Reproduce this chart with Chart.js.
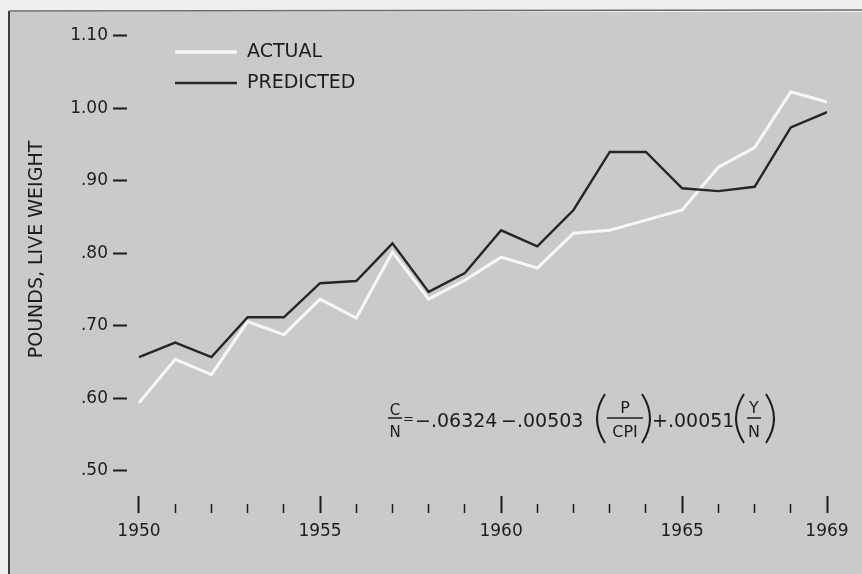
<!DOCTYPE html>
<html>
<head>
<meta charset="utf-8">
<script src="https://cdn.jsdelivr.net/npm/chart.js@4.4.0/dist/chart.umd.min.js"></script>
<style>
html, body { margin: 0; padding: 0; background: #efefef; }
canvas { display: block; }
</style>
</head>
<body>
<canvas id="chartcontainer" width="862" height="574"></canvas>
<script>
// values
var years = [1950, 1951, 1952, 1953, 1954, 1955, 1956, 1957, 1958, 1959,
             1960, 1961, 1962, 1963, 1964, 1965, 1966, 1967, 1968, 1969];
var actual = [0.594, 0.654, 0.633, 0.706, 0.688, 0.737, 0.711, 0.802, 0.737, 0.763,
              0.795, 0.780, 0.828, 0.832, 0.846, 0.860, 0.919, 0.946, 1.023, 1.009];
var predicted = [0.657, 0.677, 0.657, 0.712, 0.712, 0.759, 0.762, 0.814, 0.747, 0.773,
                 0.832, 0.810, 0.860, 0.940, 0.940, 0.890, 0.886, 0.892, 0.974, 0.995];
var yTicks = [0.50, 0.60, 0.70, 0.80, 0.90, 1.00, 1.10];
var xLabelYears = [1950, 1955, 1960, 1965, 1969];
var seriesLabels = ["ACTUAL", "PREDICTED"];
var yTitle = "POUNDS, LIVE WEIGHT";

var ink = "#1d1d1d";
var fontFam = "'DejaVu Sans', sans-serif";

function toPoints(vals) {
    var pts = [];
    for (var i = 0; i < years.length; i++) {
        pts.push({ x: years[i], y: vals[i] });
    }
    return pts;
}

function isMajor(v) {
    return xLabelYears.indexOf(v) >= 0;
}

function fmtY(v) {
    var s = v.toFixed(2);
    return v < 1 ? s.slice(1) : s; // ".90" style labels, like the original
}

// gray photo paper + the dark edges of the print
var paperPlugin = {
    id: "paper",
    beforeDraw: function(chart) {
        var c = chart.ctx;
        c.save();
        c.fillStyle = "#eeeeee";
        c.fillRect(0, 0, chart.width, chart.height);
        c.fillStyle = "#cacaca";
        c.fillRect(10, 12, chart.width - 10, chart.height - 12);
        c.strokeStyle = "#3c3c3c";
        c.lineWidth = 2;
        c.beginPath();
        c.moveTo(9, 11);
        c.lineTo(9, chart.height);
        c.stroke();
        c.strokeStyle = "#6a6a6a";
        c.lineWidth = 1.5;
        c.beginPath();
        c.moveTo(9, 11);
        c.lineTo(chart.width, 10);
        c.stroke();
        c.restore();
    }
};

// legend sits inside the plot, top left, line sample then text
var keyPlugin = {
    id: "key",
    afterDatasetsDraw: function(chart) {
        var c = chart.ctx;
        var rows = [52, 83];
        c.save();
        c.font = "19px " + fontFam;
        c.textBaseline = "middle";
        c.textAlign = "left";
        chart.data.datasets.forEach(function(ds, i) {
            c.strokeStyle = ds.borderColor;
            c.lineWidth = i == 0 ? 3.5 : 2.5;
            c.beginPath();
            c.moveTo(175, rows[i]);
            c.lineTo(237, rows[i]);
            c.stroke();
            c.fillStyle = ink;
            c.fillText(ds.label, 247, rows[i]);
        });
        c.restore();
    }
};

function frac(c, top, bottom, cx, x1, x2, size) {
    c.font = size + "px " + fontFam;
    c.textAlign = "center";
    c.textBaseline = "alphabetic";
    c.fillText(top, cx, 413);
    c.fillText(bottom, cx, 437);
    c.lineWidth = 1.5;
    c.beginPath();
    c.moveTo(x1, 418);
    c.lineTo(x2, 418);
    c.stroke();
}

function paren(c, x0, x1, left) {
    var top = 394, bottom = 443, mid = (top + bottom) / 2;
    c.lineWidth = 2;
    c.beginPath();
    if (left) {
        c.moveTo(x1, top);
        c.quadraticCurveTo(x0 - 6, mid, x1, bottom);
    } else {
        c.moveTo(x0, top);
        c.quadraticCurveTo(x1 + 6, mid, x0, bottom);
    }
    c.stroke();
}

// regression equation under the lines
var formulaPlugin = {
    id: "formula",
    afterDraw: function(chart) {
        var c = chart.ctx;
        c.save();
        c.fillStyle = ink;
        c.strokeStyle = ink;
        // C/N
        c.font = "15px " + fontFam;
        c.textAlign = "center";
        c.fillText("C", 395, 415);
        c.fillText("N", 395, 437);
        c.lineWidth = 1.5;
        c.beginPath();
        c.moveTo(388, 418);
        c.lineTo(402, 418);
        c.stroke();
        c.font = "13px " + fontFam;
        c.textAlign = "left";
        c.fillText("=", 403, 423);

        c.font = "19px " + fontFam;
        c.fillText("\u2212.06324", 415, 427);
        c.fillText("\u2212.00503", 501, 427);
        paren(c, 595, 605, true);
        frac(c, "P", "CPI", 625, 607, 643, 16);
        paren(c, 642, 652, false);
        c.font = "19px " + fontFam;
        c.textAlign = "left";
        c.fillText("+.00051", 652, 427);
        paren(c, 734, 744, true);
        frac(c, "Y", "N", 754, 747, 761, 16);
        paren(c, 766, 776, false);
        c.restore();
    }
};

var ctx = document.getElementById("chartcontainer").getContext("2d");
var chart = new Chart(ctx, {
    type: "line",
    data: {
        datasets: [
            {
                label: seriesLabels[0],
                data: toPoints(actual),
                borderColor: "#f7f7f7",
                borderWidth: 3,
                pointRadius: 0,
                tension: 0,
                order: 2
            },
            {
                label: seriesLabels[1],
                data: toPoints(predicted),
                borderColor: "#262626",
                borderWidth: 2.4,
                pointRadius: 0,
                tension: 0,
                order: 1
            }
        ]
    },
    options: {
        responsive: false,
        animation: false,
        devicePixelRatio: 1,
        layout: {
            autoPadding: false,
            padding: { top: 3, right: 35, bottom: 0, left: 0 }
        },
        plugins: {
            legend: { display: false },
            tooltip: { enabled: false }
        },
        scales: {
            x: {
                type: "linear",
                min: 1949.669,   // axis starts a little left of 1950, ticks are set off from the frame
                max: 1969,
                afterBuildTicks: function(s) {
                    s.ticks = years.map(function(v) { return { value: v }; });
                },
                afterFit: function(s) {
                    s.height = 78;
                    s.paddingLeft = 0;
                    s.paddingRight = 0;
                },
                border: { display: false },
                grid: {
                    drawOnChartArea: false,
                    drawTicks: true,
                    tickLength: 17,
                    tickColor: ink,
                    tickWidth: function(c) { return isMajor(c.tick.value) ? 2 : 1.5; },
                    tickBorderDash: function(c) { return isMajor(c.tick.value) ? [] : [0, 8, 9, 100]; }
                },
                ticks: {
                    autoSkip: false,
                    maxRotation: 0,
                    padding: 8,
                    color: ink,
                    font: { family: fontFam, size: 17 },
                    callback: function(v) { return isMajor(v) ? String(v) : ""; }
                }
            },
            y: {
                min: 0.4655,
                max: 1.1455,
                afterBuildTicks: function(s) {
                    s.ticks = yTicks.map(function(v) { return { value: v }; });
                },
                afterFit: function(s) {
                    s.width = 127;
                    s.paddingTop = 0;
                    s.paddingBottom = 0;
                },
                border: { display: false },
                grid: {
                    drawOnChartArea: false,
                    drawTicks: true,
                    tickLength: 14,
                    tickWidth: 2,
                    tickColor: ink
                },
                ticks: {
                    padding: 5,
                    color: ink,
                    font: { family: fontFam, size: 17 },
                    callback: function(v) { return fmtY(v); }
                },
                title: {
                    display: true,
                    text: yTitle,
                    color: ink,
                    font: { family: fontFam, size: 19 },
                    padding: { top: 26, bottom: 0 }
                }
            }
        }
    },
    plugins: [paperPlugin, keyPlugin, formulaPlugin]
});
</script>
</body>
</html>
